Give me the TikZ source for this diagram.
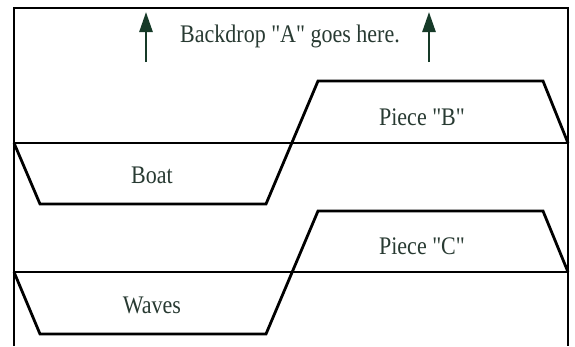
\documentclass[tikz,border=0pt]{standalone}
\usepackage{fontspec}
\setmainfont{Liberation Serif}
\usetikzlibrary{arrows.meta,positioning}
\definecolor{stagegreen}{RGB}{22,58,40}
\definecolor{labelgray}{RGB}{40,58,50}
\newcommand{\qt}{\XeTeXglyph\XeTeXglyphindex "quotedbl"\relax}

\begin{document}
\begin{tikzpicture}[x=1pt, y=-1pt,
    edge/.style={draw=black, line width=2.8pt, line join=miter},
    lift/.style={draw=stagegreen, line width=2.6pt, -{Triangle[width=13pt,length=20pt]}},
    label/.style={text=labelgray, font=\fontsize{22}{22}\selectfont, yscale=1.15, transform shape, inner sep=0pt}
]
\useasboundingbox (0,0) rectangle (575,346);

% Frame (open at the bottom)
\draw[edge] (14,346) -- (14,8) -- (568,8) -- (568,346);

% Stage lines
\draw[edge] (14,143) -- (568,143);
\draw[edge] (14,272) -- (568,272);

% Boat and Piece "B"
\draw[edge] (14,143) -- (40,204) -- (266,204) -- (318,81) -- (543,81) -- (568,143);
% Waves and Piece "C"
\draw[edge] (14,272) -- (40,334) -- (266,334) -- (318,211) -- (543,211) -- (568,272);

% Lifting arrows
\coordinate (liftLa) at (146,62);
\coordinate (liftLb) at (146,12);
\coordinate (liftRa) at (429,62);
\coordinate (liftRb) at (429,12);
\draw[lift] (liftLa) -- (liftLb);
\draw[lift] (liftRa) -- (liftRb);

% Labels
\node[label] (backdrop) at (290,36) {Backdrop \qt A\qt{} goes here.};
\node[label] (pieceB) at (422,117) {Piece \qt B\qt};
\node[label] (boat) at (152,175) {Boat};
\node[label] (pieceC) at (422,246) {Piece \qt C\qt};
\node[label] (waves) at (152,305) {Waves};

\end{tikzpicture}
\end{document}
